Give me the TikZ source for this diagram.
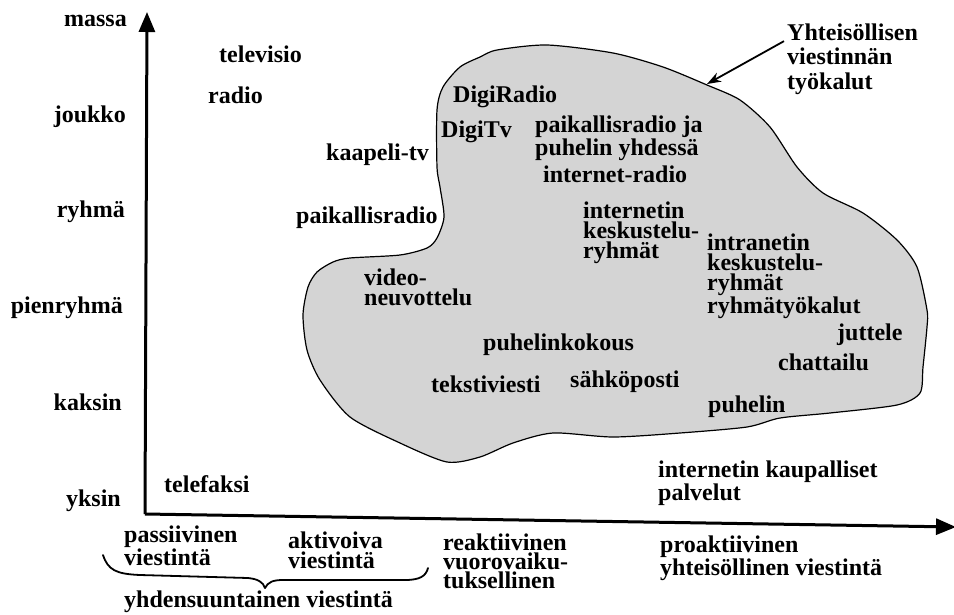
\documentclass[tikz,border=0pt]{standalone}
\usepackage{fontspec}
\setmainfont{Liberation Serif}
\usetikzlibrary{arrows.meta}
\newcommand\lblfont[1]{\fontsize{24}{#1}\selectfont\bfseries}
\begin{document}
\begin{tikzpicture}[x=1pt,y=-1pt,
  lbl/.style={font=\lblfont{20}, inner sep=0pt, anchor=base west, align=left},
  ylbl/.style={lbl, anchor=base east, align=right},
  axisline/.style={line width=3pt, -{Triangle[length=20pt,width=16pt]}},
  blobstyle/.style={draw=black, line width=1.2pt, fill=black!17},
  callarrow/.style={line width=1.8pt, -{Stealth[length=14pt,width=10pt]}},
  bracestyle/.style={line width=1.8pt, line cap=round, line join=round}]
\useasboundingbox (0,0) rectangle (954,614);
% blob
\draw[blobstyle] plot[smooth cycle, tension=0.45] coordinates {
 (480,57) (497,50) (547,45) (613,53) (663,67) (707,85) (740,100) (770,127)
 (797,167) (823,193) (863,213) (897,240) (917,267) (927,310) (927,327)
 (923,367) (920,393) (897,405) (830,413) (780,418) (747,427) (680,433)
 (613,437) (553,433) (513,443) (480,457) (447,462) (400,443) (350,417)
 (320,380) (307,350) (303,315) (308,287) (317,272) (333,262) (350,258)
 (400,255) (427,248) (437,238) (444,217) (440,187) (437,167) (437,110)
 (443,87) (460,67)};
% axes
\coordinate (O) at (145,514);
\coordinate (ytip) at (147,12);
\coordinate (xtip) at (956,527);
\draw[axisline] (O) -- (ytip);
\draw[axisline] (O) -- (xtip);
% y labels
\node[ylbl] (massa) at (127,26) {massa};
\node[ylbl] (joukko) at (126,122) {joukko};
\node[ylbl] (ryhma) at (125,217) {ryhmä};
\node[ylbl] (pienryhma) at (123,313) {pienryhmä};
\node[ylbl] (kaksin) at (122,410) {kaksin};
\node[ylbl] (yksin) at (121,506) {yksin};
% items (multi-line nodes are placed at the baseline of their last line)
\node[lbl] (televisio) at (219,62) {televisio};
\node[lbl] (radio) at (208,103) {radio};
\node[lbl] (kaapeli) at (326,160) {kaapeli-tv};
\node[lbl] (paikallisradio) at (296,223) {paikallisradio};
\node[lbl] (video) at (364,305) {video-\\neuvottelu};
\node[lbl] (digiradio) at (453,102) {DigiRadio};
\node[lbl] (digitv) at (441,137) {DigiTv};
\node[lbl] (paikpuh) at (535,155) {paikallisradio ja\\puhelin yhdessä};
\node[lbl] (inetradio) at (543,182) {internet-radio};
\node[lbl] (inetkesk) at (583,258) {internetin\\keskustelu-\\ryhmät};
\node[lbl] (intrakesk) at (707,313) {intranetin\\keskustelu-\\ryhmät\\ryhmätyökalut};
\node[lbl] (juttele) at (837,340) {juttele};
\node[lbl] (puhelinkokous) at (483,350) {puhelinkokous};
\node[lbl] (chattailu) at (778,370) {chattailu};
\node[lbl] (sahkoposti) at (570,387) {sähköposti};
\node[lbl] (tekstiviesti) at (431,392) {tekstiviesti};
\node[lbl] (puhelin) at (708,412) {puhelin};
\node[lbl, font=\lblfont{17.5}] (kaupalliset) at (658,500) {internetin kaupalliset\\palvelut};
\node[lbl] (telefaksi) at (164,492) {telefaksi};
% callout
\node[lbl, font=\lblfont{24.5}] (callout) at (787,89) {Yhteisöllisen\\viestinnän\\työkalut};
\coordinate (calltip) at (707,84);
\draw[callarrow] ([xshift=-3pt,yshift=-18pt]callout.north west) -- (calltip);
% x labels
\node[lbl, font=\lblfont{18}] (passiivinen) at (124,565) {passiivinen\\viestintä};
\node[lbl] (aktivoiva) at (288,568) {aktivoiva\\viestintä};
\node[lbl, font=\lblfont{19}] (reaktiivinen) at (443,588) {reaktiivinen\\vuorovaiku-\\tuksellinen};
\node[lbl] (proaktiivinen) at (660,575) {proaktiivinen\\yhteisöllinen viestintä};
\node[lbl] (yhdensuunt) at (124,607) {yhdensuuntainen viestintä};
% brace
\draw[bracestyle] (103,555) .. controls (108,570) and (116,574) .. (140,575)
  -- (248,578) .. controls (258,579) and (263,582) .. (265,588)
  .. controls (268,582) and (273,580) .. (283,580)
  -- (405,580) .. controls (420,580) and (426,576) .. (428,568);
\end{tikzpicture}
\end{document}
